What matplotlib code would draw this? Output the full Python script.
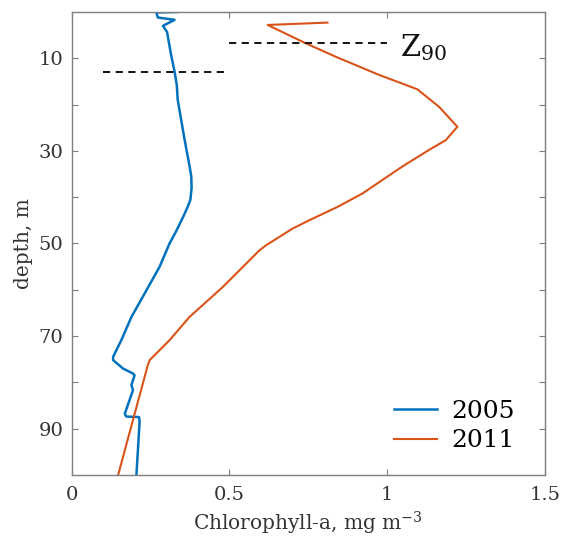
import matplotlib
matplotlib.use("Agg")
import matplotlib.pyplot as plt
from matplotlib.ticker import FixedLocator

# ==============================
# dados
# ==============================

chl_2005 = [0.336, 0.268, 0.273, 0.326, 0.289, 0.302, 0.315, 0.326, 0.333, 0.336,
            0.358, 0.368, 0.374, 0.379, 0.380, 0.376, 0.368, 0.355, 0.330, 0.310,
            0.278, 0.189, 0.157, 0.131, 0.131, 0.162, 0.194, 0.199, 0.189, 0.194,
            0.168, 0.173, 0.213, 0.215, 0.205]
dep_2005 = [0.0, 0.1, 1.2, 1.7, 3.0, 4.3, 9.3, 12.9, 15.8, 19.0,
            27.7, 31.3, 33.5, 35.6, 38.0, 40.6, 42.0, 44.0, 47.5, 50.0,
            55.1, 65.9, 70.9, 74.5, 75.2, 77.0, 78.1, 78.5, 80.6, 81.7,
            86.8, 87.4, 87.5, 88.5, 100.0]

chl_2011 = [0.811, 0.621, 0.743, 0.838, 0.975, 1.096, 1.165, 1.223, 1.186, 1.133,
            1.048, 0.922, 0.843, 0.753, 0.700, 0.616, 0.595, 0.479, 0.373, 0.310,
            0.247, 0.241, 0.147]
dep_2011 = [2.3, 2.8, 6.8, 9.7, 13.6, 16.7, 20.5, 24.8, 27.7, 29.8,
            33.4, 39.2, 42.1, 45.0, 46.8, 50.4, 51.5, 59.4, 65.9, 70.9,
            75.2, 76.3, 100.0]

# Z90 (profundidade, x inicial, x final)
z90_dep = [12.9, 6.8]
z90_x0 = [0.1, 0.5]
z90_x1 = [0.5, 1.0]

anos = ["2005", "2011"]
yticks = [10, 20, 30, 40, 50, 60, 70, 80, 90]
ytick_labels = ["10", "", "30", "", "50", "", "70", "", "90"]
xticks = [0, 0.5, 1, 1.5]
xtick_labels = ["0", "0.5", "1", "1.5"]

# ==============================
# figura
# ==============================

plt.rcParams["font.family"] = ["DejaVu Serif"]
plt.rcParams["mathtext.fontset"] = "dejavuserif"

fig = plt.figure(figsize=(5.61, 5.44), dpi=100)
ax = fig.add_axes([0.128, 0.127, 0.843, 0.851])

ax.plot(chl_2005, dep_2005, color="#0072BD", linewidth=1.8, label=anos[0])
ax.plot(chl_2011, dep_2011, color="#D95319", linewidth=1.5, label=anos[1])

for d, a, b in zip(z90_dep, z90_x0, z90_x1):
    ax.plot([a, b], [d, d], color="black", linestyle=(0, (4, 3)), linewidth=1.3)

ax.text(1.04, 9.6, r"$\mathrm{Z}_{90}$", fontsize=21, color="#111111", va="baseline")

ax.set_xlim(0, 1.5)
ax.set_ylim(100, 0)

ax.xaxis.set_major_locator(FixedLocator(xticks))
ax.set_xticklabels(xtick_labels)
ax.yaxis.set_major_locator(FixedLocator(yticks))
ax.set_yticklabels(ytick_labels)

ax.tick_params(direction="in", length=4, width=0.8, colors="#7f7f7f",
               labelcolor="#333333", labelsize=14, top=True, right=True)
ax.tick_params(axis="x", pad=8)
ax.tick_params(axis="y", pad=6)
for s in ax.spines.values():
    s.set_color("#7f7f7f")
    s.set_linewidth(1.0)

ax.set_xlabel("Chlorophyll-a, mg m$^{-3}$", fontsize=14.5, color="#333333", labelpad=4)
ax.set_ylabel("depth, m", fontsize=14.5, color="#333333", labelpad=4)

ax.legend(loc="lower right", bbox_to_anchor=(0.985, 0.0), frameon=False, fontsize=18,
          handlelength=1.7, handletextpad=0.6, labelspacing=0.25)

plt.savefig("out.png", dpi=100)
plt.close()
